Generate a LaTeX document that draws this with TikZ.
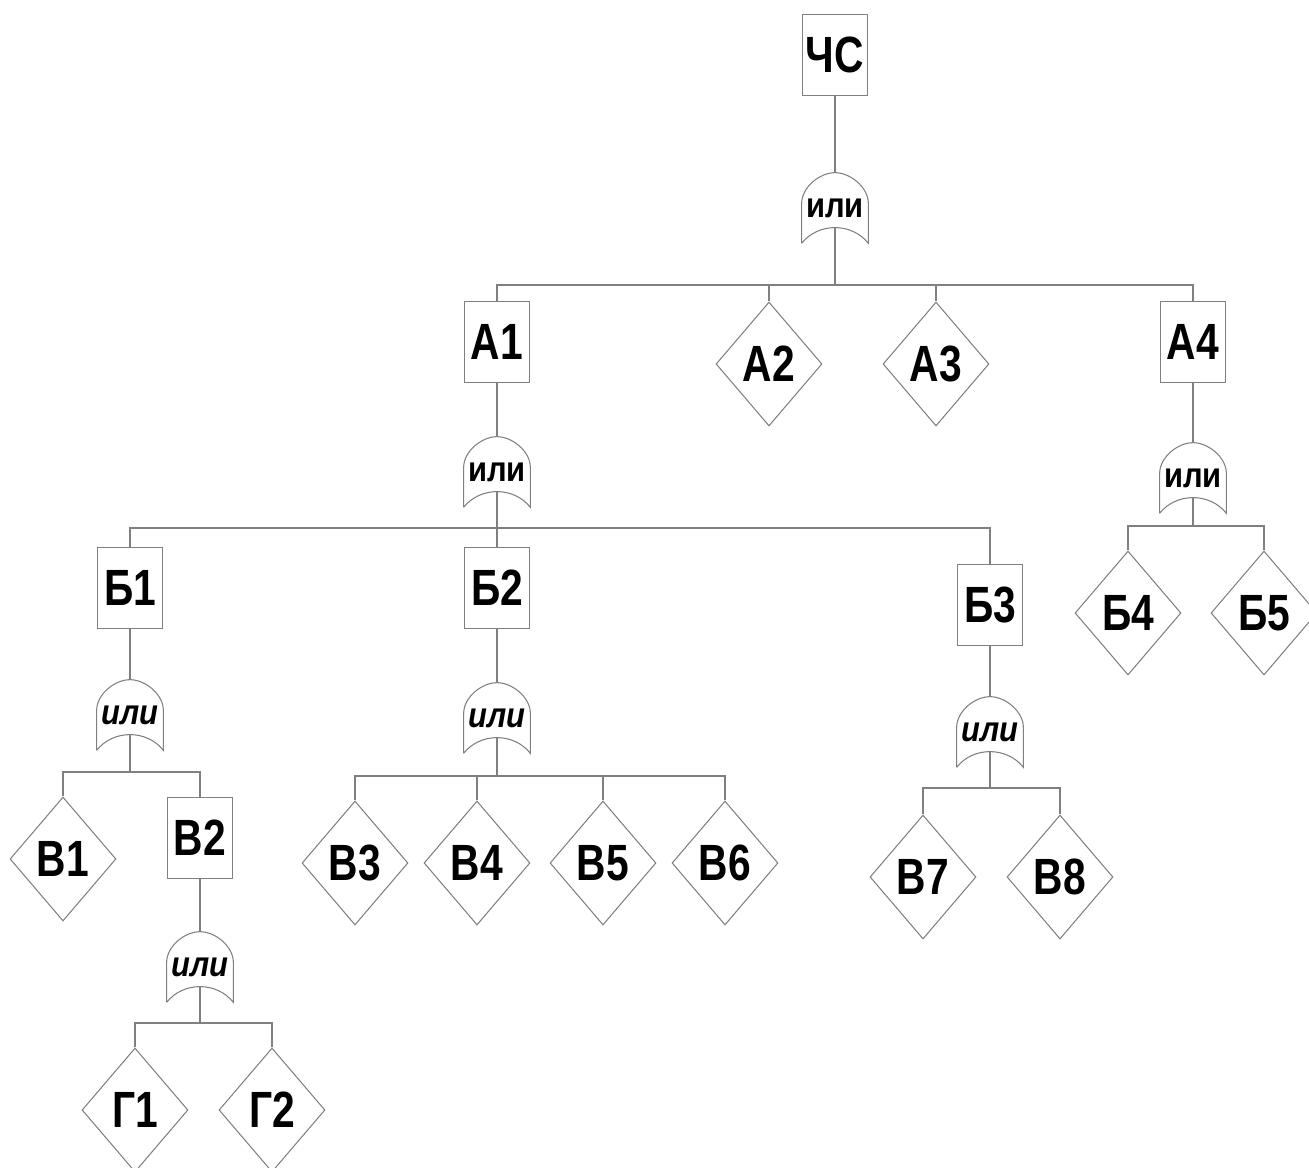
\documentclass[tikz,border=0pt]{standalone}
\usepackage{fontspec}
\usetikzlibrary{shapes.geometric}
\newfontfamily\labfont[FakeStretch=0.8]{Liberation Sans}
\newfontfamily\gatefont[FakeStretch=0.88]{Liberation Sans}

% OR gate: name, position, extra options
\newcommand{\orgate}[3][]{%
  \node[gate, #1] (#2) at (#3) {или};
  \draw[wire] (#2.south west) -- ([yshift=0.8cm]#2.south west)
    .. controls ([yshift=1.12cm]#2.south west) and ([xshift=0.36cm]#2.north west) .. (#2.north)
    .. controls ([xshift=-0.36cm]#2.north east) and ([yshift=1.12cm]#2.south east) .. ([yshift=0.8cm]#2.south east)
    -- (#2.south east)
    .. controls ([xshift=-0.33cm,yshift=0.42cm]#2.south east) and ([xshift=0.33cm,yshift=0.42cm]#2.south west) .. (#2.south west);
  \coordinate (#2-out) at ([yshift=0.32cm]#2.south);
}

\begin{document}
\begin{tikzpicture}[x=0.02cm, y=-0.02cm,
  wire/.style={draw=black!50, line width=0.6pt},
  event/.style={wire, rectangle, minimum width=1.3cm, minimum height=1.62cm, inner sep=0pt,
    font=\labfont\bfseries\fontsize{29}{30}\selectfont},
  basic/.style={wire, diamond, aspect=0.855, minimum width=2.12cm, minimum height=2.48cm, inner sep=0pt,
    font=\labfont\bfseries\fontsize{29}{30}\selectfont},
  gate/.style={minimum width=1.32cm, minimum height=1.4cm, inner sep=0pt,
    font=\gatefont\bfseries\fontsize{20}{22}\selectfont},
  gatei/.style={font=\gatefont\bfseries\itshape\fontsize{20}{22}\selectfont}]

  \useasboundingbox (0,0) rectangle (1309,1167);

  % top event
  \node[event] (top) at (835,55) {ЧС};
  \orgate{g0}{835,208}
  \coordinate (j0) at (835,285);
  \draw[wire] (top.south) -- (g0.north);
  \draw[wire] (g0-out) -- (j0);

  % level A
  \node[event] (A1) at (497,342) {А1};
  \node[basic] (A2) at (769,364) {А2};
  \node[basic] (A3) at (936,364) {А3};
  \node[event] (A4) at (1193,342) {А4};
  \draw[wire] (j0) -| (A1.north);
  \draw[wire] (j0) -| (A2.north);
  \draw[wire] (j0) -| (A3.north);
  \draw[wire] (j0) -| (A4.north);

  % under A1
  \orgate{gA1}{497,472}
  \coordinate (jA1) at (497,528);
  \draw[wire] (A1.south) -- (gA1.north);
  \draw[wire] (gA1-out) -- (jA1);
  \node[event] (B1) at (130,588) {Б1};
  \node[event] (B2) at (497,588) {Б2};
  \node[event] (B3) at (990,605) {Б3};
  \draw[wire] (jA1) -| (B1.north);
  \draw[wire] (jA1) -- (B2.north);
  \draw[wire] (jA1) -| (B3.north);

  % under A4
  \orgate{gA4}{1193,478}
  \coordinate (jA4) at (1193,526);
  \draw[wire] (A4.south) -- (gA4.north);
  \draw[wire] (gA4-out) -- (jA4);
  \node[basic] (B4) at (1128,613) {Б4};
  \node[basic] (B5) at (1264,613) {Б5};
  \draw[wire] (jA4) -| (B4.north);
  \draw[wire] (jA4) -| (B5.north);

  % under B1
  \orgate[gatei]{gB1}{130,715}
  \coordinate (jB1) at (130,772);
  \draw[wire] (B1.south) -- (gB1.north);
  \draw[wire] (gB1-out) -- (jB1);
  \node[basic] (V1) at (63,859) {В1};
  \node[event] (V2) at (200,838) {В2};
  \draw[wire] (jB1) -| (V1.north);
  \draw[wire] (jB1) -| (V2.north);

  % under B2
  \orgate[gatei]{gB2}{497,718}
  \coordinate (jB2) at (497,776);
  \draw[wire] (B2.south) -- (gB2.north);
  \draw[wire] (gB2-out) -- (jB2);
  \node[basic] (V3) at (355,863) {В3};
  \node[basic] (V4) at (477,863) {В4};
  \node[basic] (V5) at (603,863) {В5};
  \node[basic] (V6) at (725,863) {В6};
  \draw[wire] (jB2) -| (V3.north);
  \draw[wire] (jB2) -| (V4.north);
  \draw[wire] (jB2) -| (V5.north);
  \draw[wire] (jB2) -| (V6.north);

  % under B3
  \orgate[gatei]{gB3}{990,732}
  \coordinate (jB3) at (990,788);
  \draw[wire] (B3.south) -- (gB3.north);
  \draw[wire] (gB3-out) -- (jB3);
  \node[basic] (V7) at (923,877) {В7};
  \node[basic] (V8) at (1060,877) {В8};
  \draw[wire] (jB3) -| (V7.north);
  \draw[wire] (jB3) -| (V8.north);

  % under V2
  \orgate[gatei]{gV2}{200,967}
  \coordinate (jV2) at (200,1023);
  \draw[wire] (V2.south) -- (gV2.north);
  \draw[wire] (gV2-out) -- (jV2);
  \node[basic] (G1) at (135,1110) {Г1};
  \node[basic] (G2) at (272,1110) {Г2};
  \draw[wire] (jV2) -| (G1.north);
  \draw[wire] (jV2) -| (G2.north);
\end{tikzpicture}
\end{document}
